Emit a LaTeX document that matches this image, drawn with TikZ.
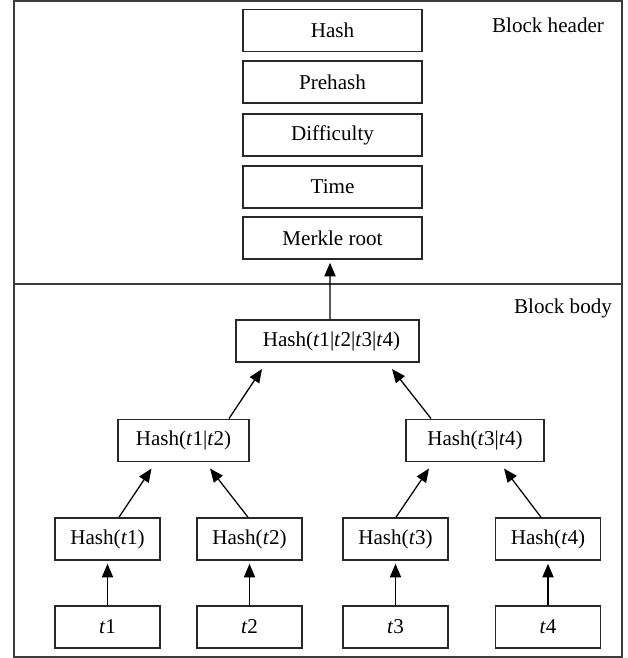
\documentclass[tikz,border=0pt]{standalone}
\usepackage{fontspec}
\setmainfont{Liberation Serif}
\usepackage{tikz}
\usetikzlibrary{positioning,arrows.meta,calc}
\definecolor{framegray}{RGB}{60,60,60}
\definecolor{boxline}{RGB}{40,40,40}
\tikzset{
    field/.style={draw=boxline, line width=1.1pt, inner sep=0pt, minimum width=4.475cm, minimum height=1.05cm, font=\fontsize{15}{18}\selectfont},
    hnode/.style={draw=boxline, line width=1.1pt, inner sep=0pt, minimum height=1.06cm, font=\fontsize{15}{18}\selectfont},
    tx/.style={draw=boxline, line width=1.1pt, inner sep=0pt, minimum width=2.625cm, minimum height=1.05cm, font=\fontsize{15}{18}\selectfont},
    arr/.style={-{Triangle[length=3.4mm,width=2.8mm]}, line width=0.9pt, draw=black},
    frame/.style={draw=framegray, line width=1.1pt},
    tag/.style={font=\fontsize{15}{18}\selectfont}
}

\begin{document}
\begin{tikzpicture}[x=0.025cm,y=-0.025cm]
\useasboundingbox (0,0) rectangle (627,658);
\draw[frame] (14,1) rectangle (622,657);
\draw[frame] (14,284) -- (622,284);
\node[tag] (headtag) at (548,25) {Block header};
\node[tag] (bodytag) at (563,308) {Block body};
% header fields
\node[field] (hash) at (332.5,30.5) {Hash};
\node[field] (prehash) at (332.5,82) {Prehash};
\node[field] (diff) at (332.5,135) {Difficulty};
\node[field] (time) at (332.5,187) {Time};
\node[field] (merkle) at (332.5,238) {Merkle root};
% merkle tree
\node[hnode, minimum width=4.575cm] (root) at (327.5,341) {\hspace{0.2cm}Hash(\textit{t}1|\textit{t}2|\textit{t}3|\textit{t}4)};
\node[hnode, minimum width=3.275cm] (m12) at (183.5,440.5) {Hash(\textit{t}1|\textit{t}2)};
\node[hnode, minimum width=3.45cm] (m34) at (475,440.5) {Hash(\textit{t}3|\textit{t}4)};
\node[tx] (h1) at (107.5,539) {Hash(\textit{t}1)};
\node[tx] (h2) at (249.5,539) {Hash(\textit{t}2)};
\node[tx] (h3) at (395.5,539) {Hash(\textit{t}3)};
\node[tx] (h4) at (548,539) {Hash(\textit{t}4)};
\node[tx] (t1) at (107.5,627) {\textit{t}1};
\node[tx] (t2) at (249.5,627) {\raisebox{-0.8ex}{\textit{t}2}};
\node[tx] (t3) at (395.5,627) {\textit{t}3};
\node[tx] (t4) at (548,627) {\textit{t}4};
% arrows
\draw[arr] ($(root.north)+(2.5,0)$) -- ($(merkle.south)+(-2.5,3)$);
\draw[arr] ($(m12.north)+(45.5,0)$) -- ($(root.south)+(-65.5,6)$);
\draw[arr] ($(m34.north)+(-44,0)$) -- ($(root.south)+(64.5,6)$);
\draw[arr] ($(h1.north)+(11.5,0)$) -- ($(m12.south)+(-32,6)$);
\draw[arr] ($(h2.north)+(-1.5,0)$) -- ($(m12.south)+(26.5,6)$);
\draw[arr] ($(h3.north)+(0.5,0)$) -- ($(m34.south)+(-46,6)$);
\draw[arr] ($(h4.north)+(-7,0)$) -- ($(m34.south)+(29,6)$);
\foreach \i in {1,...,4}
    \draw[arr] (t\i.north) -- ($(h\i.south)+(0,3)$);
\end{tikzpicture}
\end{document}
